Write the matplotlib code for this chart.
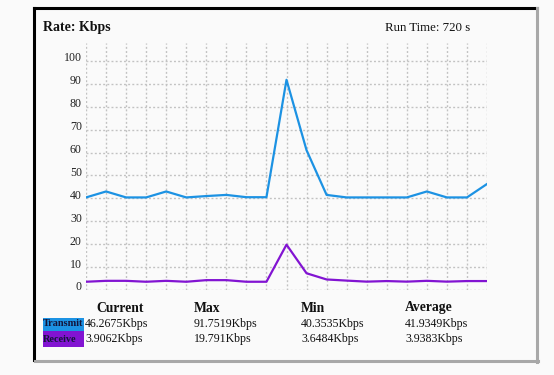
import matplotlib
matplotlib.use("Agg")
import matplotlib.pyplot as plt
from matplotlib.lines import Line2D
from matplotlib.patches import Rectangle
from matplotlib.transforms import ScaledTranslation

# samples across the visible window (one per grid column)
transmit = [40.4, 43.0, 40.4, 40.4, 43.0, 40.4, 41.0, 41.5, 40.5, 40.5, 91.75,
            61.0, 41.5, 40.4, 40.4, 40.4, 40.4, 43.0, 40.4, 40.4, 46.27]
receive = [3.6, 4.0, 4.0, 3.6, 4.0, 3.6, 4.3, 4.3, 3.6, 3.6, 19.79,
           7.3, 4.6, 4.1, 3.65, 3.9, 3.65, 4.0, 3.65, 3.9, 3.9]
y_ticks = list(range(0, 101, 10))

series_names = ["Transmit", "Receive"]
columns = ["Current", "Max", "Min", "Average"]
stats = [["46.2675Kbps", "91.7519Kbps", "40.3535Kbps", "41.9349Kbps"],
         ["3.9062Kbps", "19.791Kbps", "3.6484Kbps", "3.9383Kbps"]]
run_time = 720

W, H = 554, 375
BLUE = "#1c92e3"
PURPLE = "#8214d2"
SERIF = "Liberation Serif"

def fx(px):
    return px / W

def fy(py):
    return 1 - py / H

fig = plt.figure(figsize=(W / 100, H / 100), dpi=100, facecolor="#fafafa")

# outer frame: dark on top/left, grey on right/bottom
fig.add_artist(Line2D([fx(34), fx(537)], [fy(8), fy(8)], color="black", lw=2.2))
fig.add_artist(Line2D([fx(34), fx(34)], [fy(8), fy(360)], color="black", lw=2.2))
fig.add_artist(Line2D([fx(537), fx(537)], [fy(8), fy(362)], color="#a8a8a8", lw=2.2))
fig.add_artist(Line2D([fx(35), fx(538)], [fy(361), fy(361)], color="#a8a8a8", lw=2.2))

ax = fig.add_axes([fx(86), fy(290), fx(487) - fx(86), fy(43) - fy(290)])
ax.set_facecolor("none")
x = list(range(len(transmit)))
ax.plot(x, transmit, color=BLUE, lw=1.6, zorder=3)
ax.plot(x, receive, color=PURPLE, lw=1.6, zorder=3)

ax.set_xlim(0, len(transmit) - 1)
ax.set_ylim(0, 107.8)
ax.set_xticks(x)
ax.set_xticklabels([])
ax.set_yticks(y_ticks)
ax.set_yticklabels([str(v) for v in y_ticks], fontfamily=SERIF, fontsize=8.6, color="#222222")
ax.tick_params(length=0, pad=3)
for lab in ax.get_yticklabels():
    lab.set_transform(lab.get_transform() + ScaledTranslation(0, 4 / 100, fig.dpi_scale_trans))
ax.grid(True, color="#c2c2c2", lw=1.0, ls=(0, (1.4, 1.6)))
for s in ax.spines.values():
    s.set_visible(False)

fig.text(fx(43), fy(27), "Rate: Kbps", fontfamily=SERIF, fontweight="bold",
         fontsize=10, va="center", ha="left", color="#111111")
fig.text(fx(385), fy(28), f"Run Time: {run_time} s", fontfamily=SERIF,
         fontsize=9.3, va="center", ha="left", color="#111111")

# stats table under the chart
col_x = [96, 194, 301, 405]
for cx, name in zip(col_x, columns):
    fig.text(fx(cx), fy(308), name, fontfamily=SERIF, fontweight="bold",
             fontsize=9.8, va="center", ha="left", color="#111111")

row_y = [324, 339]
box_y = [(318, 331), (331, 347)]
for name, color, ry, (b0, b1), vals in zip(series_names, [BLUE, PURPLE], row_y, box_y, stats):
    fig.add_artist(Rectangle((fx(43), fy(b1)), fx(84) - fx(43), fy(b0) - fy(b1),
                             facecolor=color, edgecolor="none", transform=fig.transFigure))
    fig.text(fx(43), fy(ry), name, fontfamily=SERIF, fontweight="bold",
             fontsize=7.4, va="center", ha="left", color="#14143a")
    for cx, v in zip([85] + col_x[1:], vals):
        fig.text(fx(cx), fy(ry), v, fontfamily=SERIF, fontsize=8.6,
                 va="center", ha="left", color="#111111")

fig.savefig("out.png", dpi=100, facecolor=fig.get_facecolor())
